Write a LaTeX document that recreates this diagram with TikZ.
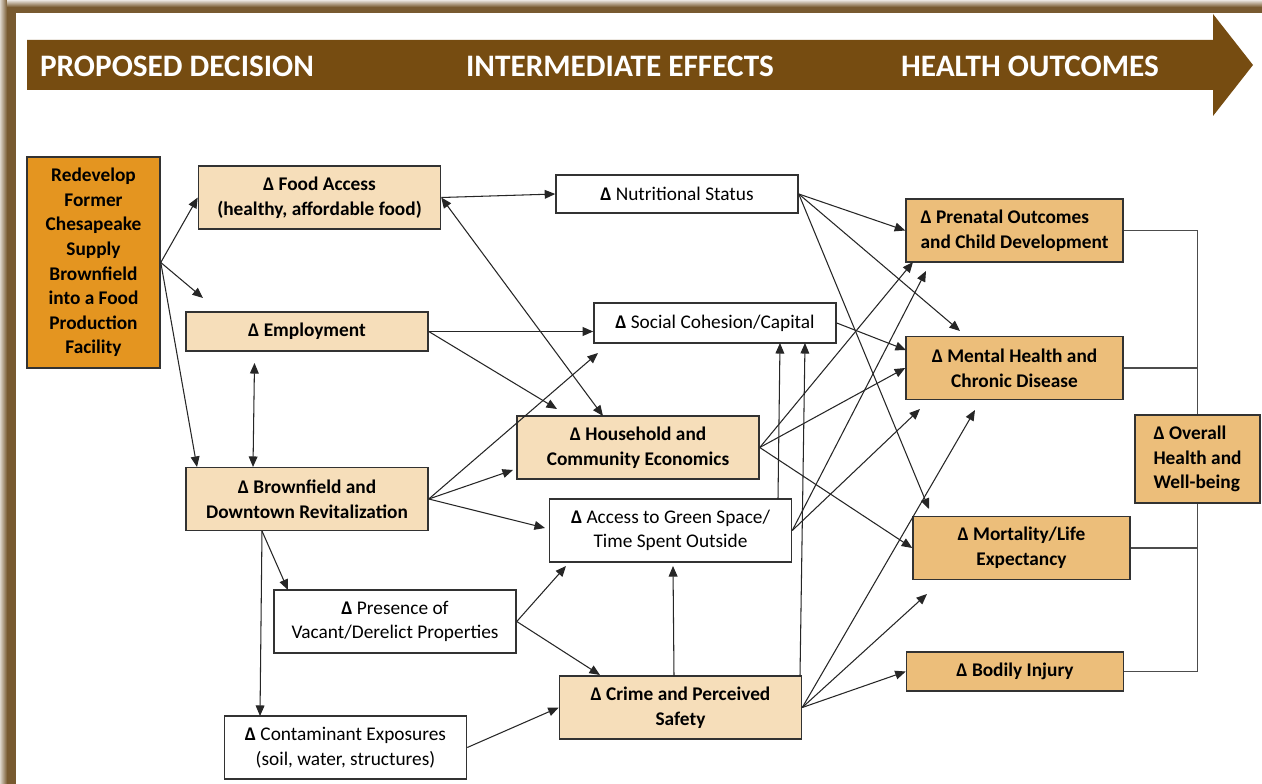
\documentclass[tikz,border=0pt]{standalone}
\usepackage{fontspec}
\setmainfont{Carlito}
\usetikzlibrary{arrows.meta}

\definecolor{cafe}{RGB}{118,76,17}
\definecolor{marco}{RGB}{120,90,48}
\definecolor{naranja}{RGB}{228,149,32}
\definecolor{crema}{RGB}{246,222,186}
\definecolor{ocre}{RGB}{236,190,122}
\definecolor{borde}{RGB}{50,50,50}

\begin{document}
\begin{tikzpicture}[x=0.02cm, y=-0.02cm,
        caja/.style={draw=borde, line width=0.9pt, align=center, inner sep=2pt,
                font=\fontsize{11}{14}\selectfont\bfseries},
        decision/.style={caja, fill=naranja, minimum width=2.66cm, minimum height=4.22cm},
        efecto/.style={caja, fill=crema, minimum width=4.84cm, minimum height=1.26cm},
        efectob/.style={caja, fill=white, minimum width=4.84cm, minimum height=1.26cm,
                font=\fontsize{11}{14}\selectfont},
        resultado/.style={caja, fill=ocre, minimum width=4.34cm, minimum height=1.26cm},
        titulo/.style={text=white, font=\fontsize{17.8}{20}\selectfont\bfseries},
        flecha/.style={-{Triangle[length=6pt,width=5pt]}, draw=black!85, line width=0.6pt},
        doble/.style={{Triangle[length=6pt,width=5pt]}-{Triangle[length=6pt,width=5pt]},
                draw=black!85, line width=0.6pt},
        corchete/.style={draw=black!70, line width=0.8pt}]

        % ===============================
        % Fondo y marco
        % ===============================
        \useasboundingbox (0,0) rectangle (1262,784);
        \fill[white] (0,0) rectangle (1262,784);
        \fill[marco] (0,0) rectangle (16,784);
        \fill[marco] (0,0) rectangle (1262,13);
        \shade[left color=marco!25, right color=marco] (0,0) rectangle (7,784);
        \shade[top color=marco!15, bottom color=marco] (7,0) rectangle (1262,7);

        % ===============================
        % Flecha superior
        % ===============================
        \fill[cafe] (27,40) -- (1213,40) -- (1213,14) -- (1253,65)
        -- (1213,116) -- (1213,90) -- (27,90) -- cycle;
        \node[titulo] (tdecision) at (177,66) {PROPOSED DECISION};
        \node[titulo] (tefectos) at (620,66) {INTERMEDIATE EFFECTS};
        \node[titulo] (tsalud) at (1030,66) {HEALTH OUTCOMES};

        % ===============================
        % Cajas
        % ===============================
        \node[decision] (redevelop) at (93.5,262.5)
        {Redevelop\\Former\\Chesapeake\\Supply\\Brownfield\\into a Food\\Production\\Facility};

        \node[efecto] (food) at (319.5,197.5) {Δ Food Access\\(healthy, affordable food)};
        \node[efecto, minimum height=0.78cm] (employ) at (307,331.5) {Δ Employment};
        \node[efecto] (brownfield) at (307,499) {Δ Brownfield and\\Downtown Revitalization};
        \node[efectob, minimum height=0.76cm] (nutri) at (677,194) {\textbf{Δ} Nutritional Status};
        \node[efectob, minimum height=0.8cm] (social) at (715,323) {\textbf{Δ} Social Cohesion/Capital};
        \node[efecto] (household) at (638,447.5) {Δ Household and\\Community Economics};
        \node[efectob] (green) at (670.5,530.5) {\textbf{Δ} Access to Green Space/\\Time Spent Outside};
        \node[efectob] (presence) at (395,621.5) {\textbf{Δ} Presence of\\Vacant/Derelict Properties};
        \node[efectob] (contam) at (345.5,747.5) {\textbf{Δ} Contaminant Exposures\\(soil, water, structures)};
        \node[efecto] (crime) at (680.5,707.5) {Δ Crime and Perceived\\Safety};

        \node[resultado, align=left] (prenatal) at (1014.5,230.5) {Δ Prenatal Outcomes\\and Child Development};
        \node[resultado] (mental) at (1014.5,368) {Δ Mental Health and\\Chronic Disease};
        \node[resultado] (mortality) at (1021.5,548) {Δ Mortality/Life\\Expectancy};
        \node[resultado, minimum height=0.78cm] (injury) at (1015,671.5) {Δ Bodily Injury};
        \node[resultado, align=left, minimum width=2.5cm, minimum height=1.76cm]
        (overall) at (1197.5,459) {Δ Overall\\Health and\\Well-being};

        % ===============================
        % Extremos libres de las flechas
        % ===============================
        \coordinate (e1) at (203,298);
        \coordinate (e2) at (254.5,363);
        \coordinate (b1) at (197,467);
        \coordinate (b2) at (253,467);
        \coordinate (bs) at (262,531);
        \coordinate (h1) at (603,416);
        \coordinate (h2) at (557,409);
        \coordinate (h3) at (513,470);
        \coordinate (s1) at (598,353);
        \coordinate (s2) at (780,343);
        \coordinate (s3) at (805,343);
        \coordinate (sc) at (employ.east -| social.west);
        \coordinate (g1) at (545,528);
        \coordinate (g2) at (566,566);
        \coordinate (g3) at (673,566);
        \coordinate (g4) at (778,499);
        \coordinate (p1) at (288,590);
        \coordinate (c1) at (260,716);
        \coordinate (k1) at (600,675);
        \coordinate (k2) at (674,676);
        \coordinate (k3) at (800,676);
        \coordinate (m1) at (960,331);
        \coordinate (m2) at (906,350);
        \coordinate (m3) at (920,409);
        \coordinate (m4) at (975,410);
        \coordinate (pn1) at (913,262);
        \coordinate (pn2) at (926,271);
        \coordinate (t1) at (929,509);
        \coordinate (t2) at (927,594);

        % ===============================
        % Flechas
        % ===============================
        \foreach \src/\dst in {
                redevelop.east/food.west, redevelop.east/e1, redevelop.east/b1,
                food.east/nutri.west, employ.east/sc, employ.east/h2,
                brownfield.east/s1, brownfield.east/h3, brownfield.east/g1,
                bs/p1, bs/c1, presence.east/g2, presence.east/k1,
                contam.east/crime.west, k2/g3, g4/s2, k3/s3,
                nutri.east/prenatal.west, nutri.east/m1, nutri.east/t1,
                social.east/m2,
                household.east/pn1, household.east/mental.west, household.east/mortality.west,
                green.east/pn2, green.east/m3,
                crime.east/m4, crime.east/t2, crime.east/injury.west}{
                \draw[flecha] (\src) -- (\dst);
            }

        \draw[doble] (e2) -- (b2);
        \draw[doble] (food.east) -- (h1);

        % Corchete hacia el resultado global
        \draw[corchete] (prenatal.east) -| (overall.north);
        \draw[corchete] (mental.east) -- (mental.east -| overall.north);
        \draw[corchete] (mortality.east) -- (mortality.east -| overall.south);
        \draw[corchete] (injury.east) -| (overall.south);

    \end{tikzpicture}
\end{document}
